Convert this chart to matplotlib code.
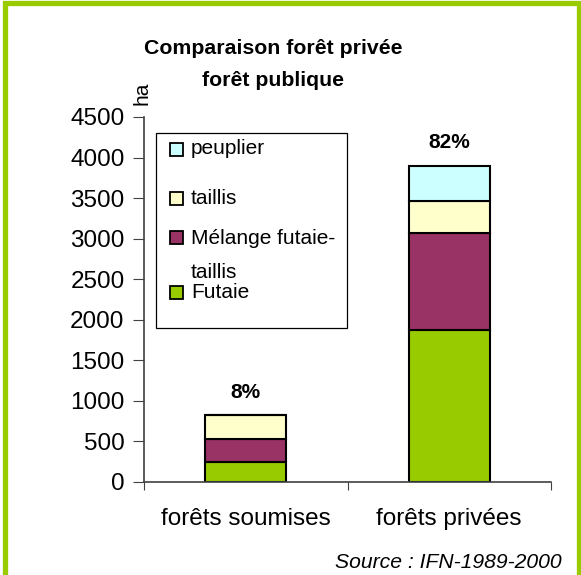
import numpy as np
import matplotlib
matplotlib.use('Agg')
import matplotlib.pyplot as plt
from matplotlib.patches import Rectangle

plt.rcParams['font.family'] = ['Liberation Sans', 'DejaVu Sans']

# données (ha)
categories = ['forêts soumises', 'forêts privées']
series_names = ['Futaie', 'Mélange futaie-\ntaillis', 'taillis', 'peuplier']
futaie = [250, 1880]
melange = [280, 1190]
taillis = [290, 400]
peuplier = [0, 430]
pct_labels = ['8%', '82%']
colors = ['#99CC00', '#993366', '#FFFFCC', '#CCFFFF']

W, H = 581, 575
fig = plt.figure(figsize=(W / 100, H / 100), dpi=100)

def fx(px):
    return px / W

def fy(py):
    return 1 - py / H

# cadre vert
fig.patches.append(Rectangle((fx(4.5), fy(580)), fx(578.5) - fx(4.5), fy(3) - fy(580),
                             transform=fig.transFigure, fill=False,
                             edgecolor='#99CC00', linewidth=3.8))

ax = fig.add_axes([fx(144), fy(482), fx(551) - fx(144), fy(117) - fy(482)])

x = np.arange(len(categories))
bottom = np.zeros(len(categories))
for vals, col in zip([futaie, melange, taillis, peuplier], colors):
    vals = np.array(vals, dtype=float)
    ax.bar(x, vals, width=0.40, bottom=bottom, color=col, edgecolor='black', linewidth=1.5)
    bottom += vals

for xi, tot, lab in zip(x, bottom, pct_labels):
    ax.annotate(lab, (xi, tot), xytext=(0, 10), textcoords='offset points',
                ha='center', va='bottom', fontsize=15, fontweight='bold')

ax.set_xlim(-0.5, 1.5)
ax.set_ylim(0, 4500)
ax.set_yticks(np.arange(0, 4501, 500))
ax.set_xticks([-0.5, 0.5, 1.5])
ax.set_xticklabels([])
ax.set_xticks(x, minor=True)
ax.set_xticklabels(categories, minor=True, fontsize=17.5)
ax.tick_params(axis='x', which='minor', length=0, pad=19)
ax.tick_params(axis='x', which='major', length=6, direction='out', color='#404040')
ax.tick_params(axis='y', length=8, direction='out', labelsize=17.5, pad=6, color='#404040')
for s in ['top', 'right']:
    ax.spines[s].set_visible(False)
for s in ['left', 'bottom']:
    ax.spines[s].set_color('#404040')
    ax.spines[s].set_linewidth(1.2)

# titre et unité
fig.text(fx(273), fy(48), 'Comparaison forêt privée', ha='center', va='center',
         fontsize=15.3, fontweight='bold')
fig.text(fx(273), fy(81), 'forêt publique', ha='center', va='center',
         fontsize=15.3, fontweight='bold')
fig.text(fx(142), fy(93), 'ha', rotation=90, ha='center', va='center', fontsize=15)

# légende
fig.patches.append(Rectangle((fx(156), fy(328)), fx(347) - fx(156), fy(133) - fy(328),
                             transform=fig.transFigure, fill=True, facecolor='white',
                             edgecolor='black', linewidth=0.9))
leg_y = [292, 238, 198, 149]
for name, col, ly in zip(series_names, colors, leg_y):
    fig.patches.append(Rectangle((fx(170), fy(ly + 6.5)), fx(13), 13 / H,
                                 transform=fig.transFigure, facecolor=col,
                                 edgecolor='black', linewidth=1.3))
    lines = name.split('\n')
    for i, line in enumerate(lines):
        fig.text(fx(191), fy(ly + 34 * i), line, ha='left', va='center', fontsize=15)

fig.text(fx(562), fy(563), 'Source : IFN-1989-2000', ha='right', va='center',
         fontsize=15.2, style='italic')

fig.savefig('out.png', dpi=100)
